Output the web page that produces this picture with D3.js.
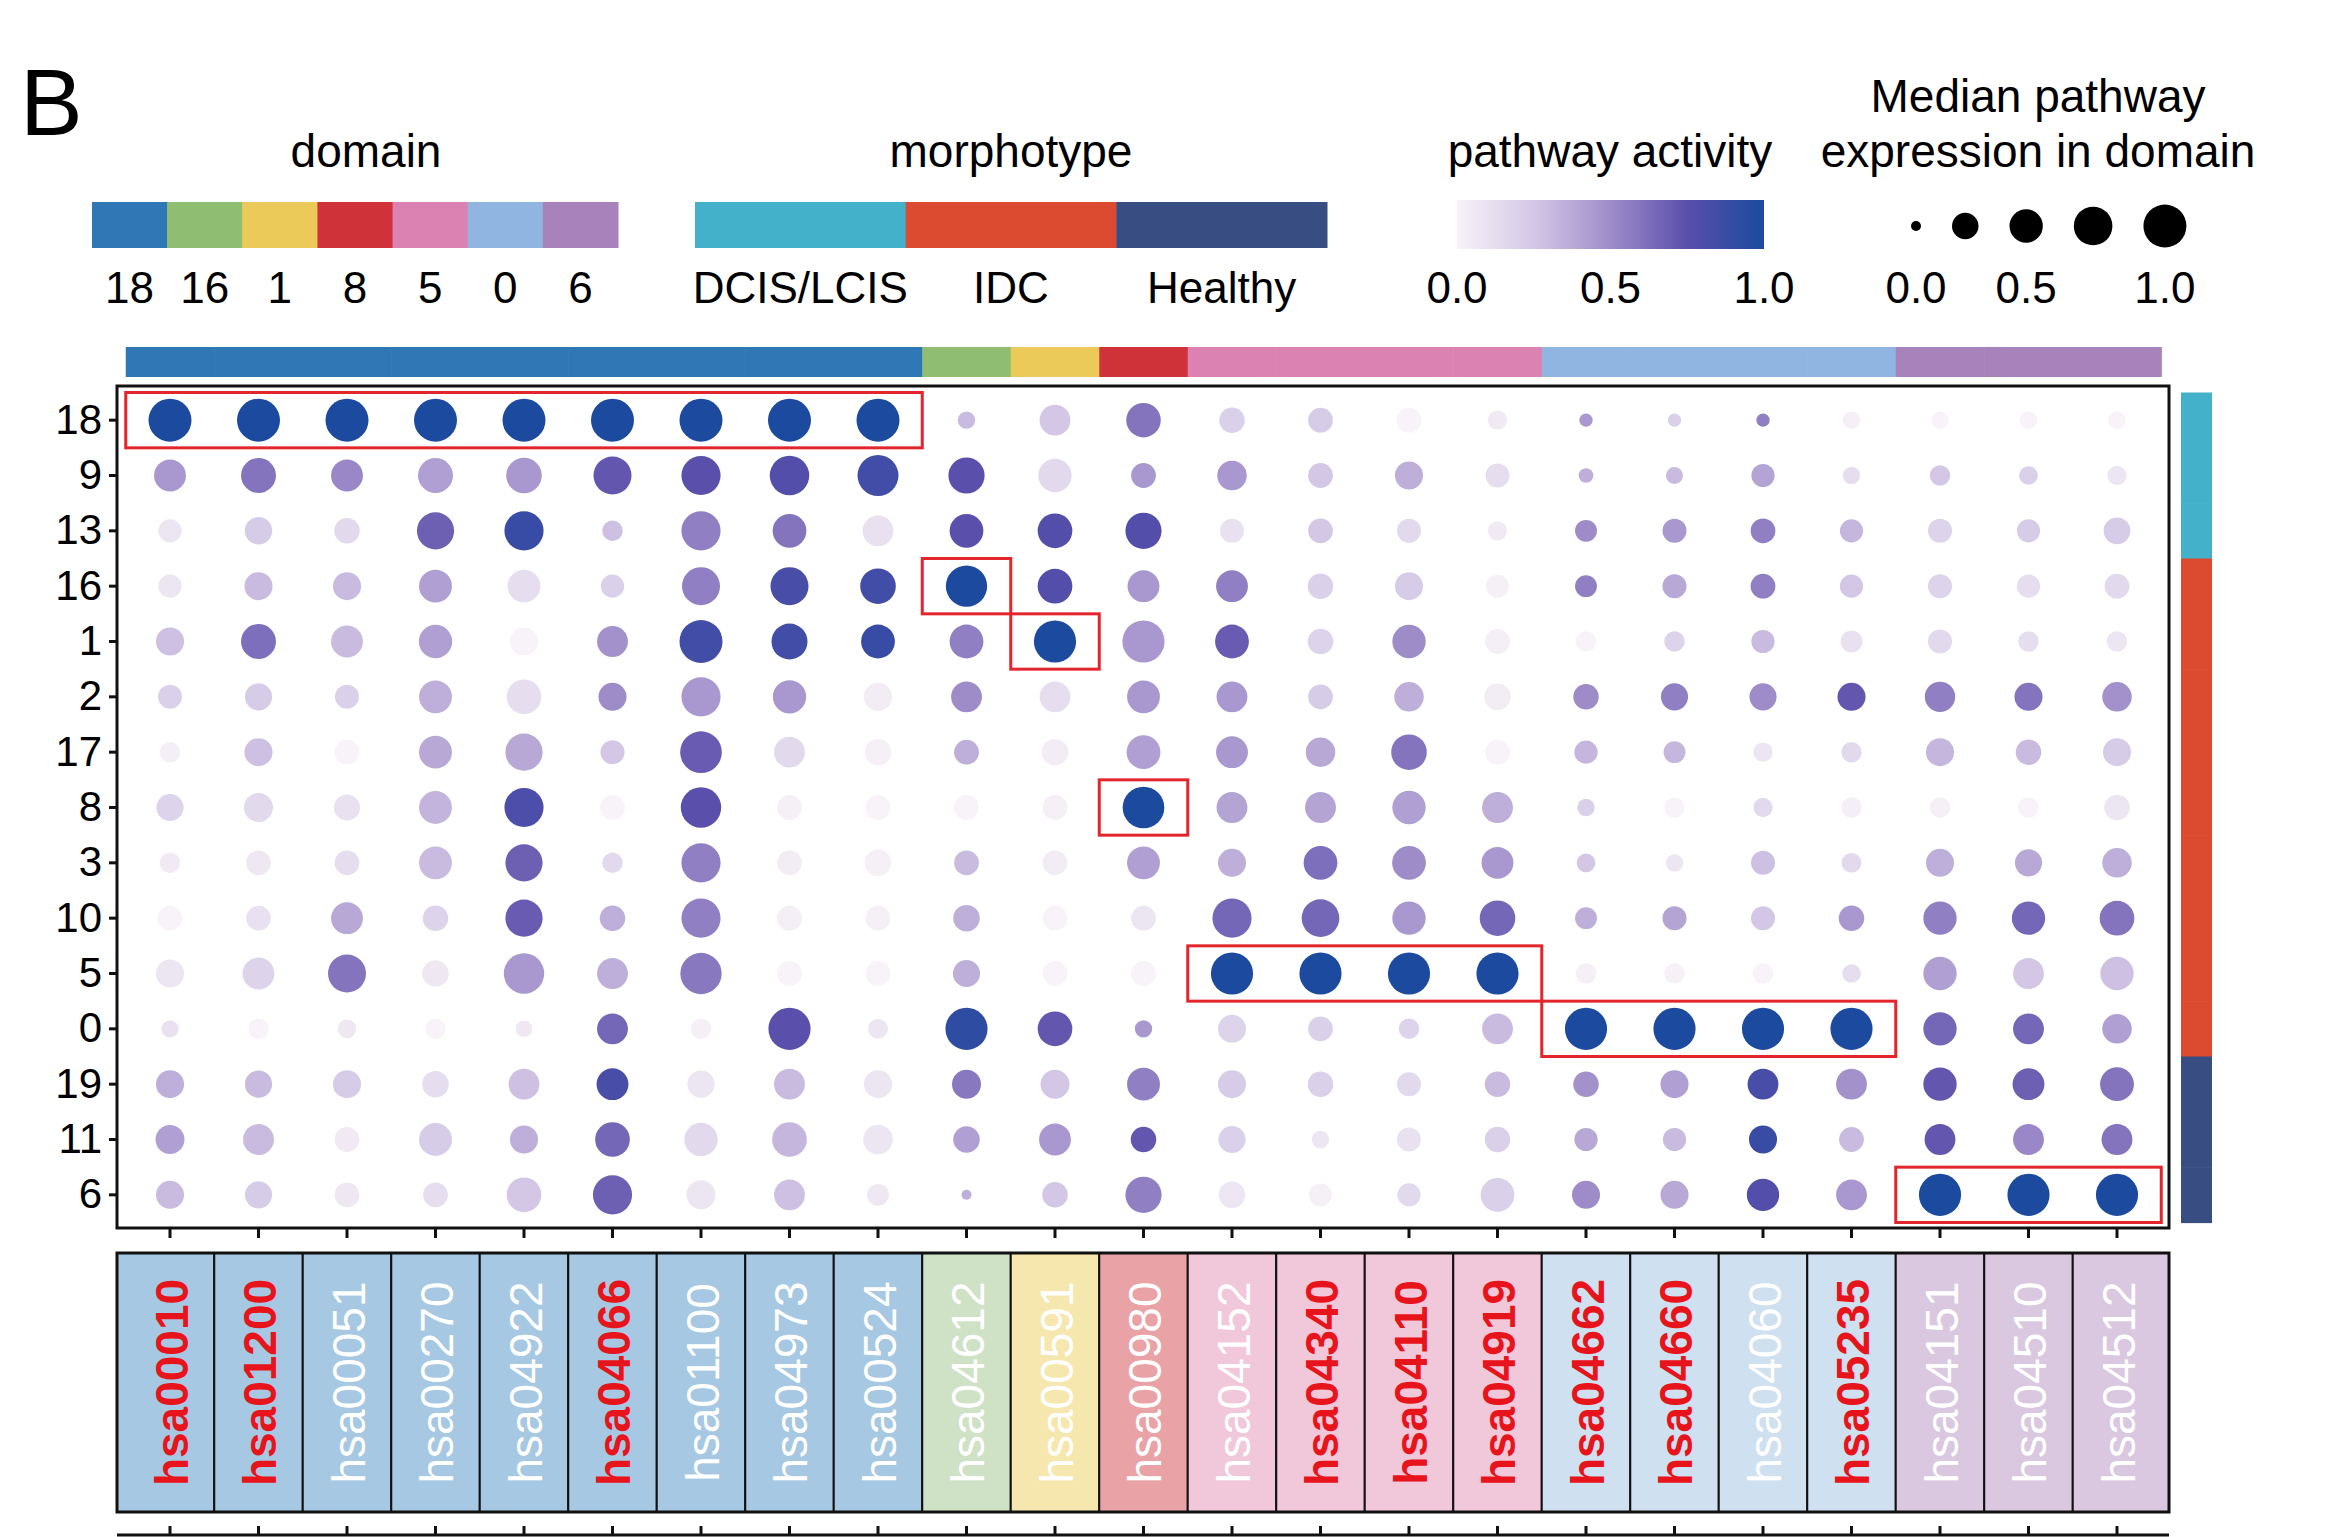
<!DOCTYPE html>
<html><head><meta charset="utf-8">
<script src="https://cdn.jsdelivr.net/npm/d3@7"></script>
<style>
body{margin:0;background:#fff;}
svg{display:block;font-family:"Liberation Sans",Arial,Helvetica,sans-serif;}
</style>
</head><body>
<svg id="chart" width="2336" height="1537"></svg>
<script>
// ---------------- data ----------------
const rows = ['18','9','13','16','1','2','17','8','3','10','5','0','19','11','6'];
const pathways = ['hsa00010','hsa01200','hsa00051','hsa00270','hsa04922','hsa04066','hsa01100','hsa04973','hsa00524',
  'hsa04612','hsa00591','hsa00980','hsa04152','hsa04340','hsa04110','hsa04919','hsa04662','hsa04660','hsa04060','hsa05235',
  'hsa04151','hsa04510','hsa04512'];
const pathwayDomain = ['18','18','18','18','18','18','18','18','18','16','1','8','5','5','5','5','0','0','0','0','6','6','6'];
const redLabels = ['hsa00010','hsa01200','hsa04066','hsa04340','hsa04110','hsa04919','hsa04662','hsa04660','hsa05235'];
const domainOrder = ['18','16','1','8','5','0','6'];
const domainColors = ['#2f78b5','#8fbd72','#ebca59','#cf3238','#dc82b3','#8fb5e0','#a882bb'];
const domainLight = ['#a6c8e2','#cfe2c5','#f6e7ae','#e9a3a6','#f1c7da','#cfe0f0','#dac8e0'];
const morphotypes = ['DCIS/LCIS','IDC','Healthy'];
const morphColors = ['#42b1c9','#dc4a30','#384e82'];
const rowMorph = ['DCIS/LCIS','DCIS/LCIS','DCIS/LCIS','IDC','IDC','IDC','IDC','IDC','IDC','IDC','IDC','IDC','Healthy','Healthy','Healthy'];

// median pathway expression in domain (dot size), one array per row
const sizeValues = [
  [1,1,1,1,1,1,1,1,1, 0.05,0.4,0.55,0.22,0.2,0.2,0.08, 0.01,0.01,0.01,0.05,0.05,0.05,0.05],
  [0.44,0.57,0.44,0.57,0.6,0.72,0.78,0.8,0.88, 0.63,0.5,0.2,0.35,0.2,0.3,0.18, 0.02,0.045,0.16,0.05,0.1,0.07,0.08],
  [0.16,0.28,0.22,0.68,0.78,0.1,0.78,0.52,0.4, 0.52,0.56,0.63,0.18,0.2,0.18,0.08, 0.13,0.18,0.2,0.16,0.18,0.16,0.26],
  [0.16,0.3,0.3,0.48,0.48,0.16,0.72,0.72,0.6, 0.9,0.56,0.44,0.44,0.22,0.3,0.15, 0.13,0.18,0.2,0.16,0.18,0.16,0.2],
  [0.3,0.57,0.44,0.5,0.3,0.4,1.0,0.62,0.52, 0.52,0.95,0.95,0.52,0.22,0.5,0.2, 0.1,0.1,0.16,0.13,0.18,0.1,0.1],
  [0.18,0.27,0.18,0.48,0.56,0.3,0.78,0.5,0.3, 0.4,0.4,0.48,0.4,0.2,0.35,0.25, 0.22,0.27,0.27,0.3,0.38,0.3,0.35],
  [0.1,0.3,0.2,0.48,0.68,0.18,0.92,0.4,0.25, 0.2,0.25,0.52,0.44,0.35,0.6,0.2, 0.16,0.13,0.08,0.1,0.3,0.22,0.3],
  [0.27,0.33,0.24,0.48,0.78,0.2,0.85,0.2,0.2, 0.2,0.2,0.92,0.4,0.4,0.5,0.4, 0.05,0.1,0.08,0.1,0.1,0.1,0.22],
  [0.1,0.2,0.2,0.48,0.68,0.1,0.78,0.2,0.25, 0.2,0.2,0.48,0.3,0.52,0.52,0.44, 0.07,0.05,0.18,0.09,0.3,0.27,0.35],
  [0.2,0.2,0.44,0.22,0.68,0.22,0.78,0.2,0.2, 0.25,0.2,0.2,0.78,0.7,0.5,0.6, 0.13,0.18,0.18,0.22,0.5,0.5,0.56],
  [0.3,0.44,0.72,0.25,0.85,0.4,0.9,0.2,0.2, 0.27,0.2,0.2,0.95,0.95,0.95,0.95, 0.1,0.1,0.1,0.07,0.5,0.4,0.5],
  [0.05,0.1,0.07,0.1,0.04,0.4,0.1,0.95,0.09, 0.95,0.56,0.05,0.3,0.2,0.1,0.4, 0.95,0.95,0.95,0.95,0.5,0.4,0.35],
  [0.3,0.27,0.3,0.25,0.4,0.44,0.27,0.4,0.3, 0.33,0.33,0.48,0.3,0.22,0.18,0.22, 0.22,0.3,0.4,0.4,0.5,0.44,0.52],
  [0.33,0.4,0.2,0.48,0.3,0.56,0.5,0.56,0.35, 0.25,0.44,0.22,0.27,0.05,0.18,0.22, 0.16,0.16,0.3,0.2,0.4,0.4,0.4],
  [0.3,0.27,0.2,0.2,0.56,0.78,0.33,0.4,0.13, 0.0,0.22,0.63,0.25,0.15,0.16,0.52, 0.3,0.3,0.46,0.4,0.95,0.95,0.95]
];
// pathway activity (dot colour), one array per row
const activityValues = [
  [1,1,1,1,1,1,1,1,1, 0.3,0.25,0.6,0.2,0.22,0,0.05, 0.45,0.2,0.55,0.02,0,0,0],
  [0.45,0.6,0.52,0.42,0.45,0.72,0.75,0.78,0.85, 0.75,0.15,0.45,0.45,0.25,0.35,0.12, 0.35,0.3,0.4,0.12,0.25,0.2,0.08],
  [0.08,0.22,0.15,0.68,0.88,0.28,0.55,0.6,0.1, 0.75,0.78,0.78,0.1,0.25,0.15,0.05, 0.5,0.45,0.55,0.32,0.18,0.22,0.22],
  [0.08,0.3,0.3,0.42,0.12,0.2,0.55,0.82,0.85, 1,0.78,0.45,0.55,0.2,0.22,0.02, 0.55,0.38,0.55,0.25,0.18,0.12,0.15],
  [0.28,0.62,0.3,0.42,0,0.48,0.85,0.85,0.88, 0.55,1,0.45,0.7,0.18,0.5,0.03, 0,0.18,0.3,0.1,0.15,0.12,0.08],
  [0.2,0.22,0.2,0.35,0.12,0.5,0.45,0.45,0.04, 0.5,0.12,0.45,0.45,0.22,0.35,0.04, 0.5,0.55,0.5,0.72,0.55,0.6,0.48],
  [0.03,0.28,0,0.38,0.38,0.25,0.7,0.15,0.02, 0.35,0.04,0.42,0.45,0.38,0.6,0, 0.32,0.32,0.08,0.15,0.32,0.3,0.22],
  [0.18,0.15,0.1,0.33,0.8,0,0.75,0.02,0, 0,0.02,1,0.4,0.4,0.42,0.35, 0.2,0,0.15,0.03,0.02,0,0.08],
  [0.05,0.06,0.12,0.3,0.68,0.15,0.55,0.04,0.02, 0.3,0.04,0.42,0.35,0.62,0.5,0.45, 0.25,0.08,0.28,0.15,0.35,0.38,0.35],
  [0,0.1,0.38,0.18,0.7,0.35,0.55,0.03,0.02, 0.35,0,0.08,0.65,0.65,0.45,0.65, 0.35,0.4,0.25,0.45,0.55,0.65,0.6],
  [0.08,0.18,0.6,0.06,0.45,0.35,0.58,0,0, 0.35,0,0,1,1,1,1, 0.02,0.01,0,0.12,0.42,0.25,0.28],
  [0.1,0,0.06,0,0.06,0.65,0.02,0.75,0.08, 0.92,0.72,0.45,0.18,0.2,0.18,0.3, 1,1,1,1,0.65,0.65,0.42],
  [0.35,0.3,0.22,0.12,0.28,0.82,0.08,0.3,0.08, 0.58,0.25,0.55,0.22,0.2,0.15,0.3, 0.48,0.42,0.82,0.48,0.72,0.68,0.6],
  [0.42,0.3,0.05,0.22,0.35,0.65,0.15,0.32,0.08, 0.42,0.45,0.72,0.2,0.08,0.1,0.2, 0.38,0.3,0.88,0.3,0.72,0.52,0.6],
  [0.3,0.22,0.06,0.12,0.25,0.68,0.08,0.28,0.06, 0.35,0.25,0.55,0.07,0.02,0.15,0.2, 0.5,0.38,0.78,0.45,1,1,1]
];
const highlights = [
  {row:'18', from:'hsa00010', to:'hsa00524'},
  {row:'16', from:'hsa04612', to:'hsa04612'},
  {row:'1',  from:'hsa00591', to:'hsa00591'},
  {row:'8',  from:'hsa00980', to:'hsa00980'},
  {row:'5',  from:'hsa04152', to:'hsa04919'},
  {row:'0',  from:'hsa04662', to:'hsa05235'},
  {row:'6',  from:'hsa04151', to:'hsa04512'}
];
const activityTicks = [0, 0.5, 1];
const sizeLegendValues = [0, 0.25, 0.5, 0.75, 1];
const sizeLegendLabels = [{i:0,t:'0.0'},{i:2,t:'0.5'},{i:4,t:'1.0'}];

// ---------------- drawing ----------------
const svg = d3.select('#chart');
const FONT = '"Liberation Sans",Arial,Helvetica,sans-serif';
const TITLE_FS = 46, LAB_FS = 44;

const frame = {l:117, r:2169, t:386, b:1228};
const x = d3.scaleBand().domain(pathways).range([125.75, 2161.25]);
const y = d3.scaleBand().domain(rows).range([392.5, 1222.5]);
const bw = x.bandwidth(), bh = y.bandwidth();
const rScale = d3.scaleSqrt().domain([0,1]).range([5,21.5]);
const colorStops = [0,0.25,0.5,0.75,1];
const colorRange = ['#f8f3f8','#d3c7e5','#9e8cc9','#5a4fab','#1b4a9f'];
const color = d3.scaleLinear().domain(colorStops).range(colorRange).interpolate(d3.interpolateRgb).clamp(true);
const domColor = d3.scaleOrdinal().domain(domainOrder).range(domainColors);
const domLight = d3.scaleOrdinal().domain(domainOrder).range(domainLight);
const morphColor = d3.scaleOrdinal().domain(morphotypes).range(morphColors);

// panel letter
svg.append('text').attr('x',20).attr('y',135).attr('font-size',94).attr('fill','#000').text('B');

// ---- legends ----
// domain
const domLegX = d3.scaleBand().domain(domainOrder).range([92,618]);
svg.append('text').attr('x',366).attr('y',167).attr('text-anchor','middle').attr('font-size',TITLE_FS).text('domain');
svg.selectAll('.domleg').data(domainOrder).enter().append('rect')
  .attr('x',d=>domLegX(d)).attr('y',202).attr('width',domLegX.bandwidth()+0.5).attr('height',46).attr('fill',d=>domColor(d));
svg.selectAll('.domlab').data(domainOrder).enter().append('text')
  .attr('x',d=>domLegX(d)+domLegX.bandwidth()/2).attr('y',303).attr('text-anchor','middle').attr('font-size',LAB_FS).text(d=>d);

// morphotype
const morLegX = d3.scaleBand().domain(morphotypes).range([695,1327]);
svg.append('text').attr('x',1011).attr('y',167).attr('text-anchor','middle').attr('font-size',TITLE_FS).text('morphotype');
svg.selectAll('.morleg').data(morphotypes).enter().append('rect')
  .attr('x',d=>morLegX(d)).attr('y',202).attr('width',morLegX.bandwidth()+0.5).attr('height',46).attr('fill',d=>morphColor(d));
svg.selectAll('.morlab').data(morphotypes).enter().append('text')
  .attr('x',d=>morLegX(d)+morLegX.bandwidth()/2).attr('y',303).attr('text-anchor','middle').attr('font-size',LAB_FS).text(d=>d);

// pathway activity gradient
const gx = d3.scaleLinear().domain([0,1]).range([1457,1764]);
const defs = svg.append('defs');
const grad = defs.append('linearGradient').attr('id','actgrad').attr('x1','0%').attr('x2','100%');
d3.range(0,1.0001,0.05).forEach(v=>{
  grad.append('stop').attr('offset',(v*100)+'%').attr('stop-color',color(v));
});
svg.append('text').attr('x',1610).attr('y',167).attr('text-anchor','middle').attr('font-size',TITLE_FS).text('pathway activity');
svg.append('rect').attr('x',gx(0)).attr('y',200).attr('width',gx(1)-gx(0)).attr('height',49).attr('fill','url(#actgrad)');
svg.selectAll('.gl').data(activityTicks).enter().append('text')
  .attr('x',d=>gx(d)).attr('y',303).attr('text-anchor','middle').attr('font-size',LAB_FS).text(d=>d3.format('.1f')(d));

// size legend
svg.append('text').attr('x',2038).attr('y',112).attr('text-anchor','middle').attr('font-size',TITLE_FS).text('Median pathway');
svg.append('text').attr('x',2038).attr('y',167).attr('text-anchor','middle').attr('font-size',TITLE_FS).text('expression in domain');
const sizeLegCx = [];
let cx = 1916;
sizeLegendValues.forEach((v,i)=>{
  if(i>0) cx += rScale(sizeLegendValues[i-1]) + 31 + rScale(v);
  sizeLegCx.push(cx);
});
svg.selectAll('.sl').data(sizeLegendValues).enter().append('circle')
  .attr('cx',(d,i)=>sizeLegCx[i]).attr('cy',226).attr('r',d=>rScale(d)).attr('fill','#000');
svg.selectAll('.slt').data(sizeLegendLabels).enter().append('text')
  .attr('x',d=>sizeLegCx[d.i]).attr('y',303).attr('text-anchor','middle').attr('font-size',LAB_FS).text(d=>d.t);

// ---- top domain annotation bar ----
svg.selectAll('.topbar').data(pathways).enter().append('rect')
  .attr('x',d=>x(d)).attr('y',347).attr('width',bw+0.6).attr('height',30)
  .attr('fill',(d,i)=>domColor(pathwayDomain[i]));

// ---- right morphotype bar ----
svg.selectAll('.rbar').data(rows).enter().append('rect')
  .attr('x',2181).attr('y',d=>y(d)).attr('width',31).attr('height',bh+0.6)
  .attr('fill',(d,i)=>morphColor(rowMorph[i]));

// ---- dots ----
const cells = [];
rows.forEach((rw,ri)=>pathways.forEach((p,pi)=>{
  cells.push({row:rw, path:p, size:sizeValues[ri][pi], act:activityValues[ri][pi]});
}));
svg.append('g').selectAll('circle').data(cells).enter().append('circle')
  .attr('cx',d=>x(d.path)+bw/2).attr('cy',d=>y(d.row)+bh/2)
  .attr('r',d=>rScale(d.size)).attr('fill',d=>color(d.act));

// ---- highlight boxes ----
svg.append('g').selectAll('rect').data(highlights).enter().append('rect')
  .attr('x',d=>x(d.from)).attr('y',d=>y(d.row))
  .attr('width',d=>x(d.to)+bw-x(d.from)).attr('height',bh)
  .attr('fill','none').attr('stroke','#e3262c').attr('stroke-width',3);

// ---- frame ----
svg.append('rect').attr('x',frame.l).attr('y',frame.t).attr('width',frame.r-frame.l).attr('height',frame.b-frame.t)
  .attr('fill','none').attr('stroke','#111').attr('stroke-width',3);

// ---- axes ----
const yAxis = svg.append('g').attr('transform',`translate(${frame.l},0)`)
  .call(d3.axisLeft(y).tickSize(8).tickPadding(7).tickSizeOuter(0));
yAxis.select('.domain').remove();
yAxis.selectAll('line').attr('stroke','#111').attr('stroke-width',3);
yAxis.selectAll('text').attr('font-size',42).attr('font-family',FONT).attr('fill','#000');

const xAxis = svg.append('g').attr('transform',`translate(0,${frame.b})`)
  .call(d3.axisBottom(x).tickSize(10).tickFormat('').tickSizeOuter(0));
xAxis.select('.domain').remove();
xAxis.selectAll('line').attr('stroke','#111').attr('stroke-width',3);

// ---- pathway label boxes ----
const lb = {t:1253, b:1512};
const lg = svg.append('g');
lg.selectAll('rect').data(pathways).enter().append('rect')
  .attr('x',(d,i)=> i===0 ? frame.l : x(d))
  .attr('y',lb.t)
  .attr('width',(d,i)=>{
    const x0 = i===0 ? frame.l : x(d);
    const x1 = i===pathways.length-1 ? frame.r : x(d)+bw;
    return x1-x0;
  })
  .attr('height',lb.b-lb.t)
  .attr('fill',(d,i)=>domLight(pathwayDomain[i]))
  .attr('stroke','#111').attr('stroke-width',2);
lg.append('rect').attr('x',frame.l).attr('y',lb.t).attr('width',frame.r-frame.l).attr('height',lb.b-lb.t)
  .attr('fill','none').attr('stroke','#111').attr('stroke-width',3);
lg.selectAll('text').data(pathways).enter().append('text')
  .attr('transform',d=>`translate(${x(d)+bw/2+1},${(lb.t+lb.b)/2}) rotate(-90)`)
  .attr('text-anchor','middle').attr('dy','0.36em')
  .attr('font-size',46)
  .attr('font-weight',d=>redLabels.includes(d)?'bold':'normal')
  .attr('fill',d=>redLabels.includes(d)?'#e8141c':'#ffffff')
  .text(d=>d);

// ---- bottom (next panel) axis ----
const bAxis = svg.append('g').attr('transform','translate(0,1535)')
  .call(d3.axisTop(x).tickSize(9).tickFormat('').tickSizeOuter(0));
bAxis.select('.domain').remove();
bAxis.selectAll('line').attr('stroke','#111').attr('stroke-width',3);
svg.append('line').attr('x1',frame.l).attr('x2',frame.r).attr('y1',1535).attr('y2',1535)
  .attr('stroke','#111').attr('stroke-width',3);
</script>
</body></html>
